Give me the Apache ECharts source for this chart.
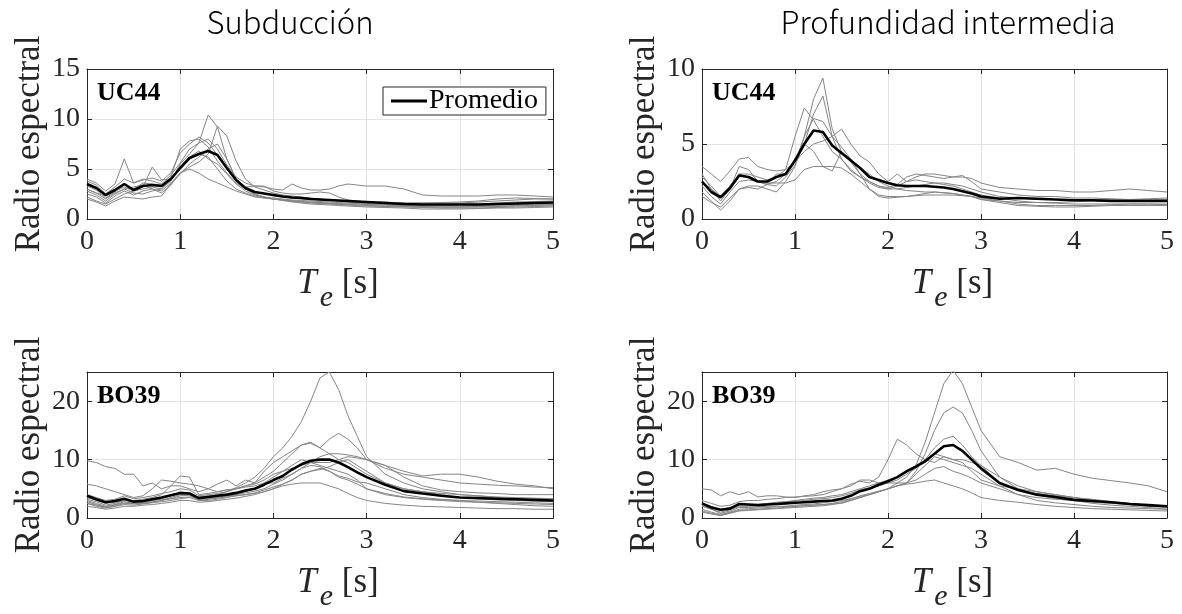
<!DOCTYPE html>
<html>
<head>
<meta charset="utf-8">
<script src="https://cdn.jsdelivr.net/npm/echarts@6/dist/echarts.min.js"></script>
<style>html,body{margin:0;padding:0;background:#fff}#c{width:1182px;height:614px}</style>
</head>
<body>
<div id="c"></div>
<script>
// Shared period grid (s)
const T = [0,0.1,0.2,0.3,0.4,0.5,0.6,0.7,0.8,0.9,1.0,1.1,1.2,1.3,1.4,1.5,1.6,1.7,1.8,1.9,2.0,2.1,2.2,2.3,2.4,2.5,2.6,2.7,2.8,2.9,3.0,3.2,3.4,3.6,3.8,4.0,4.2,4.4,4.6,4.8,5.0];

const columnTitles = ['Subducción', 'Profundidad intermedia'];
const stationLabels = ['UC44', 'UC44', 'BO39', 'BO39'];
const yTitle = 'Radio espectral';
const yMaxes = [15, 10, 25, 25];
const yIntervals = [5, 5, 10, 10];

// ---- Subducción, UC44 ----
const tlMean = [3.5,3.1,2.4,2.9,3.5,2.9,3.3,3.4,3.3,4.0,5.1,6.1,6.5,6.8,6.4,5.1,3.9,3.1,2.7,2.55,2.4,2.25,2.15,2.1,2.0,1.95,1.9,1.85,1.8,1.75,1.7,1.6,1.5,1.45,1.45,1.45,1.45,1.5,1.55,1.6,1.65];
const tlA = [3.0,2.6,2.3,2.8,3.2,2.8,3.0,3.2,3.0,3.8,5.5,6.5,7.6,10.4,9.2,6.0,4.0,3.0,2.5,2.2,2.0,1.9,1.8,1.75,1.7,1.65,1.6,1.55,1.5,1.5,1.45,1.4,1.3,1.25,1.2,1.2,1.25,1.3,1.35,1.4,1.45];
const tlB = [2.5,2.2,1.6,2.3,2.8,2.4,2.8,3.0,2.8,3.6,4.6,5.2,5.7,6.5,9.3,8.3,5.8,4.0,3.2,2.9,2.6,2.4,2.3,2.2,2.1,2.0,1.9,1.8,1.7,1.6,1.55,1.45,1.35,1.3,1.3,1.3,1.35,1.4,1.45,1.5,1.5];
const tlC = [4.0,3.6,2.8,3.5,6.0,3.6,3.9,4.1,3.8,4.6,6.6,7.5,8.2,7.6,6.4,5.0,3.8,3.2,3.3,3.3,2.8,2.6,2.5,2.5,2.6,2.7,2.6,2.2,1.9,1.8,1.7,1.7,1.6,1.6,1.6,1.6,1.7,1.8,1.9,2.0,2.0];
const tlD = [3.8,3.4,2.5,3.2,4.0,3.6,4.0,3.8,3.5,4.4,5.6,7.0,7.6,8.0,7.0,5.4,4.2,3.6,3.3,3.2,3.0,2.9,3.5,3.1,2.9,2.9,3.0,3.3,3.5,3.4,3.3,3.3,3.0,2.4,2.3,2.3,2.3,2.4,2.4,2.3,2.2];
const tlE = [2.2,1.8,1.5,2.0,2.5,2.8,3.2,5.2,3.9,4.0,5.0,6.0,6.5,6.2,5.0,3.8,3.0,2.6,2.3,2.1,2.0,1.9,1.8,1.7,1.65,1.6,1.55,1.5,1.45,1.4,1.35,1.3,1.25,1.2,1.2,1.2,1.2,1.25,1.3,1.35,1.4];
const tlF = [3.0,2.6,2.0,2.6,3.0,3.2,3.4,3.0,2.6,3.4,4.6,5.0,4.6,4.0,3.6,3.2,2.8,2.5,2.2,2.1,2.0,1.9,1.8,1.7,1.6,1.55,1.5,1.45,1.4,1.35,1.3,1.25,1.2,1.15,1.1,1.1,1.1,1.15,1.2,1.25,1.3];
const tlG = [2.0,1.7,1.3,1.8,2.2,2.1,2.0,2.2,2.3,3.5,4.5,5.5,6.2,7.0,7.5,6.0,4.0,3.0,2.5,2.2,2.0,1.85,1.7,1.6,1.5,1.45,1.4,1.35,1.3,1.25,1.2,1.15,1.1,1.0,1.0,1.0,1.05,1.1,1.1,1.15,1.2];
const tlH = [2.8,2.4,1.8,2.5,3.0,2.6,2.5,2.8,3.0,4.0,5.0,6.2,6.8,6.0,5.5,4.5,3.5,2.8,2.4,2.2,2.1,2.0,1.9,1.85,1.8,1.75,1.7,1.65,1.6,1.55,1.5,1.45,1.4,1.4,1.4,1.45,1.5,1.6,1.7,1.75,1.8];
const tlI = [3.3,2.9,2.1,2.7,3.4,3.0,3.6,3.5,3.4,4.2,7.0,7.8,8.0,7.2,5.8,4.6,3.6,3.0,2.7,2.5,2.3,2.2,2.1,2.0,2.0,1.9,1.85,1.8,1.75,1.7,1.7,1.65,1.6,1.6,1.65,1.7,1.8,2.0,2.1,2.05,2.0];

// ---- Profundidad intermedia, UC44 ----
const trMean = [2.5,1.8,1.45,2.05,2.9,2.8,2.5,2.5,2.8,3.0,3.9,5.0,5.9,5.8,4.9,4.4,3.9,3.4,2.8,2.6,2.4,2.25,2.2,2.2,2.2,2.15,2.1,2.0,1.85,1.7,1.5,1.35,1.4,1.35,1.3,1.25,1.25,1.2,1.2,1.2,1.2];
const trA = [3.0,2.0,1.2,2.0,3.5,3.3,2.5,2.3,3.0,3.0,3.8,5.5,8.0,9.4,6.0,4.5,3.8,3.0,2.5,2.2,2.0,2.2,2.5,2.6,2.5,2.4,2.3,2.2,2.0,1.8,1.6,1.4,1.2,1.1,1.05,1.0,1.0,1.0,1.0,1.0,0.95];
const trB = [2.2,1.5,1.0,1.8,2.5,2.6,2.5,2.3,2.2,2.8,3.6,5.0,7.0,8.2,5.5,4.0,3.2,2.8,2.5,2.2,2.1,2.3,2.8,3.0,2.9,2.8,2.7,2.8,2.9,2.5,2.0,1.8,1.6,1.5,1.5,1.4,1.4,1.35,1.3,1.3,1.3];
const trC = [2.8,2.2,1.5,2.2,3.0,3.0,2.8,2.6,2.8,3.3,5.5,7.4,6.6,5.5,4.5,4.0,3.3,2.8,2.4,2.1,2.0,2.0,2.1,2.2,2.3,2.4,2.4,2.3,2.2,2.0,1.8,1.5,1.4,1.3,1.3,1.3,1.3,1.3,1.3,1.35,1.4];
const trD = [2.5,2.0,1.5,2.2,3.0,2.8,2.5,2.4,2.4,2.4,2.6,3.3,3.5,3.5,3.5,3.4,3.0,2.5,2.0,1.6,1.5,1.5,1.5,1.55,1.6,1.6,1.6,1.6,1.55,1.5,1.4,1.2,1.0,0.9,0.9,0.9,0.9,0.95,1.0,1.0,1.0];
const trE = [3.5,3.0,2.5,3.2,4.0,4.1,3.5,3.3,3.2,3.3,3.8,4.5,5.0,5.2,5.5,6.0,5.0,4.2,3.8,3.0,2.5,3.0,2.5,2.8,3.0,3.0,2.9,2.8,2.8,2.7,2.4,2.1,2.0,1.9,1.9,1.8,1.8,1.9,2.0,1.9,1.8];
const trF = [1.8,1.2,0.6,1.2,2.0,2.2,2.2,2.0,1.8,2.5,3.5,5.5,6.7,6.5,5.5,4.8,4.0,3.4,3.0,2.5,2.2,2.0,1.9,1.85,1.8,1.8,1.75,1.7,1.6,1.5,1.3,1.1,0.9,0.85,0.8,0.8,0.85,0.9,0.9,0.9,0.9];
const trG = [1.5,1.1,0.8,1.4,2.0,2.1,2.0,2.3,2.5,3.0,4.0,5.0,4.5,3.5,3.2,4.5,4.0,3.0,2.0,1.5,1.4,1.45,1.5,1.6,1.7,1.8,1.75,1.7,1.6,1.5,1.3,1.2,1.1,1.1,1.1,1.15,1.2,1.2,1.25,1.25,1.2];

// ---- Subducción, BO39 ----
const blMean = [3.8,3.2,2.7,2.9,3.3,2.8,2.9,3.2,3.5,3.9,4.3,4.2,3.4,3.6,3.8,4.0,4.3,4.7,5.0,5.7,6.5,7.2,8.3,9.2,9.8,10.0,10.0,9.5,8.7,7.8,7.0,5.7,4.6,4.2,3.8,3.5,3.4,3.3,3.2,3.1,3.0];
const blA = [2.5,2.2,1.8,2.0,2.5,2.5,2.7,3.0,3.2,3.3,3.5,3.6,3.6,3.8,4.0,4.5,5.2,6.0,7.0,8.5,10.5,12.0,14.0,16.5,20.0,24.0,25.0,22.0,17.5,14.0,10.5,7.5,6.0,5.0,4.5,4.0,3.8,3.5,3.3,3.1,3.0];
const blB = [9.8,9.5,8.8,8.5,7.5,7.5,5.5,6.0,5.0,5.5,5.5,5.0,4.5,5.0,5.8,6.5,5.5,6.5,6.0,8.0,9.5,10.5,11.5,12.5,12.8,12.0,13.5,14.5,13.5,12.0,10.0,8.5,7.5,7.0,6.5,6.0,5.8,5.6,5.5,5.3,5.2];
const blC = [5.8,5.5,5.0,4.5,4.0,3.5,3.8,5.0,6.5,6.3,6.0,5.8,5.5,5.0,4.5,4.8,5.0,5.5,5.8,6.5,7.5,8.0,8.5,9.0,9.5,9.5,9.5,10.0,10.5,10.3,10.0,9.0,8.0,7.2,7.5,7.5,7.0,6.3,5.8,5.5,5.0];
const blD = [3.5,3.0,2.5,2.7,3.0,3.0,3.2,3.5,4.0,5.5,7.2,7.0,4.0,4.2,4.5,4.8,5.0,5.3,5.5,6.0,6.0,6.8,7.5,8.5,9.5,10.5,11.0,11.0,10.8,10.5,10.0,9.0,7.0,5.5,4.8,4.5,4.3,4.2,4.0,4.0,4.0];
const blE = [2.0,1.8,1.5,1.7,2.0,2.0,2.2,2.3,2.5,2.7,3.0,3.0,2.7,2.8,3.0,3.2,3.4,3.7,4.0,4.5,5.0,5.5,5.8,6.0,6.0,6.0,5.5,5.0,4.2,3.5,3.0,2.5,2.2,2.0,1.9,1.8,1.7,1.6,1.6,1.5,1.5];
const blF = [3.0,2.5,2.0,2.3,2.8,2.5,2.6,2.8,3.0,3.5,4.0,4.2,3.5,3.5,3.6,3.8,4.0,4.5,5.0,6.0,7.0,8.0,9.0,10.0,9.5,9.0,8.5,8.0,7.5,6.5,5.0,4.2,3.6,3.3,3.1,3.0,2.9,2.8,2.7,2.6,2.5];
const blG = [2.5,2.0,1.7,2.0,2.3,2.2,2.4,2.6,2.8,3.0,3.3,3.5,3.0,3.0,3.2,3.5,3.8,4.0,4.3,4.8,5.3,5.8,6.5,7.5,8.0,8.5,8.0,7.0,6.5,5.8,5.0,4.0,3.5,3.2,3.0,2.8,2.7,2.6,2.5,2.4,2.3];
const blH = [3.2,2.8,2.2,2.5,3.0,2.8,2.9,3.0,3.3,3.8,4.2,4.0,3.2,3.3,3.5,3.8,3.8,4.0,4.2,4.5,5.0,5.8,6.5,7.5,8.0,8.3,8.8,9.5,10.0,9.0,8.0,6.0,5.0,4.5,4.0,3.5,3.3,3.1,3.0,2.9,2.8];
const blI = [2.8,2.3,1.9,2.2,2.6,2.4,2.5,2.7,3.0,3.3,3.8,3.9,3.0,3.2,3.4,3.6,4.0,4.3,4.6,5.0,5.8,6.5,7.5,8.5,9.0,8.8,8.0,7.2,6.8,6.2,6.0,5.0,4.0,3.5,3.2,3.0,2.7,2.5,2.3,2.1,2.0];
const blJ = [4.0,3.5,3.0,3.2,3.8,3.3,3.5,3.8,4.2,4.5,5.0,4.8,3.8,4.0,4.2,4.5,5.0,5.5,6.0,7.0,8.0,9.5,11.0,12.5,13.0,12.0,11.0,10.0,9.5,8.5,7.5,6.0,5.0,4.5,4.2,4.0,3.8,3.6,3.5,3.4,3.3];

// ---- Profundidad intermedia, BO39 ----
const brMean = [2.5,1.8,1.4,1.6,2.4,2.3,2.2,2.3,2.4,2.5,2.6,2.7,2.8,2.9,3.0,3.3,3.8,4.6,5.0,5.7,6.3,7.0,8.0,8.8,9.7,11.0,12.3,12.5,11.5,10.0,8.5,6.0,4.8,4.0,3.6,3.1,2.9,2.7,2.4,2.2,2.0];
const brA = [2.2,1.5,0.8,1.2,1.8,1.8,1.9,2.0,2.0,2.0,2.0,2.1,2.2,2.3,2.4,2.5,3.0,3.5,4.0,4.5,5.0,6.0,7.0,9.0,13.0,18.0,23.0,25.3,23.0,19.0,15.0,10.5,9.5,8.2,8.5,7.5,6.8,6.4,6.0,5.5,4.5];
const brB = [1.5,1.0,0.6,1.0,1.5,1.6,1.7,1.8,1.9,2.0,2.2,2.3,2.4,2.6,2.8,3.0,3.3,3.7,4.0,4.5,5.0,5.5,6.0,8.0,11.0,15.0,18.0,19.0,18.0,15.0,11.5,7.0,5.5,4.5,4.0,3.5,3.0,2.7,2.4,2.2,2.0];
const brC = [3.0,2.5,2.0,2.2,2.8,3.0,3.0,3.2,3.3,3.5,3.6,3.7,3.8,4.0,4.5,5.0,5.8,6.3,6.0,7.0,10.0,13.5,12.5,11.0,10.0,9.5,10.5,10.0,9.5,8.0,6.5,5.5,5.0,4.5,4.0,3.5,3.2,2.8,2.5,2.2,2.0];
const brD = [2.0,1.5,1.0,1.4,2.0,2.0,2.1,2.3,2.5,2.7,2.9,3.0,3.2,3.3,3.5,3.8,4.2,4.8,5.2,5.5,6.0,6.5,7.5,8.5,10.0,12.0,13.5,14.0,12.5,10.5,9.0,6.0,4.8,4.2,3.8,3.5,3.0,2.6,2.3,2.0,1.8];
const brE = [2.5,2.0,1.5,1.8,2.3,2.2,2.3,2.5,2.7,2.8,3.0,3.2,3.4,3.5,3.8,4.0,4.5,5.0,5.5,6.0,6.5,7.0,8.0,9.0,10.0,11.0,10.5,10.0,10.0,9.5,9.0,7.0,5.0,4.0,3.3,3.0,2.7,2.5,2.3,2.1,2.0];
const brF = [1.2,0.8,0.5,0.9,1.3,1.4,1.5,1.6,1.7,1.8,2.0,2.1,2.2,2.3,2.5,2.8,3.2,3.8,4.2,4.6,5.0,5.5,6.0,6.5,7.5,8.5,8.8,8.0,7.5,6.8,6.0,5.0,4.0,3.0,2.6,2.3,2.0,1.8,1.7,1.6,1.5];
const brG = [1.0,0.7,0.4,0.8,1.2,1.3,1.4,1.5,1.6,1.7,1.8,1.9,2.0,2.1,2.3,2.6,3.0,3.5,4.0,4.5,5.0,5.5,5.8,6.0,6.3,6.5,6.0,5.5,5.0,4.3,3.5,3.0,2.7,2.3,2.0,1.8,1.6,1.5,1.4,1.3,1.2];
const brH = [5.0,4.8,3.8,4.5,4.0,4.5,3.6,3.8,3.8,3.6,3.5,3.8,4.0,4.5,4.8,5.0,5.5,6.5,6.5,6.0,6.0,6.0,6.0,7.5,9.0,10.5,10.0,9.5,9.0,8.5,7.5,5.5,4.0,3.5,3.2,3.0,2.5,2.2,2.0,1.8,1.5];

const panelGray = [
  [tlA, tlB, tlC, tlD, tlE, tlF, tlG, tlH, tlI],
  [trA, trB, trC, trD, trE, trF, trG],
  [blA, blB, blC, blD, blE, blF, blG, blH, blI, blJ],
  [brA, brB, brC, brD, brE, brF, brG, brH]
];
const panelMean = [tlMean, trMean, blMean, brMean];

const SERIF = 'Liberation Serif';
const AX = '#262626';
const grids = [
  {left: 87, top: 69, width: 466, height: 150},
  {left: 702, top: 69, width: 465, height: 150},
  {left: 87, top: 372, width: 466, height: 146},
  {left: 702, top: 372, width: 465, height: 146}
];

const pairs = arr => arr.map((v, i) => [T[i], v]);

const xAxes = [], yAxes = [], series = [];
grids.forEach((g, p) => {
  xAxes.push({
    gridIndex: p, type: 'value', min: 0, max: 5, interval: 1, position: 'bottom',
    axisLine: {show: true, onZero: false, lineStyle: {color: AX, width: 1}},
    axisTick: {show: true, inside: true, length: 5, lineStyle: {color: AX}},
    axisLabel: {color: AX, fontFamily: SERIF, fontSize: 28, margin: 9},
    splitLine: {show: true, lineStyle: {color: '#e3e3e3', width: 1}}
  });
  xAxes.push({
    gridIndex: p, type: 'value', min: 0, max: 5, interval: 1, position: 'top',
    axisLine: {show: true, onZero: false, lineStyle: {color: AX, width: 1}},
    axisTick: {show: true, inside: true, length: 5, lineStyle: {color: AX}},
    axisLabel: {show: false}, splitLine: {show: false}
  });
  yAxes.push({
    gridIndex: p, type: 'value', min: 0, max: yMaxes[p], interval: yIntervals[p], position: 'left',
    axisLine: {show: true, onZero: false, lineStyle: {color: AX, width: 1}},
    axisTick: {show: true, inside: true, length: 5, lineStyle: {color: AX}},
    axisLabel: {color: AX, fontFamily: SERIF, fontSize: 28, margin: 7,
      showMaxLabel: yMaxes[p] % yIntervals[p] === 0},
    splitLine: {show: true, lineStyle: {color: '#e3e3e3', width: 1}}
  });
  yAxes.push({
    gridIndex: p, type: 'value', min: 0, max: yMaxes[p], interval: yIntervals[p], position: 'right',
    axisLine: {show: true, onZero: false, lineStyle: {color: AX, width: 1}},
    axisTick: {show: true, inside: true, length: 5, lineStyle: {color: AX}},
    axisLabel: {show: false}, splitLine: {show: false}
  });
  panelGray[p].forEach((arr, k) => {
    series.push({
      type: 'line', name: 'reg' + p + '_' + k, xAxisIndex: 2 * p, yAxisIndex: 2 * p,
      data: pairs(arr), showSymbol: false, symbol: 'none', silent: true,
      itemStyle: {color: '#858585'},
      lineStyle: {color: '#858585', width: 1}, z: 2
    });
  });
  series.push({
    type: 'line', name: p === 0 ? 'Promedio' : 'Promedio ' + p, xAxisIndex: 2 * p, yAxisIndex: 2 * p,
    data: pairs(panelMean[p]), showSymbol: false, symbol: 'none', silent: true,
    itemStyle: {color: '#000000'},
    lineStyle: {color: '#000000', width: 2.6}, z: 3
  });
});

const graphics = [
  {type: 'text', x: 290, y: 22, style: {text: columnTitles[0], fontFamily: 'Noto Sans CJK JP', fontSize: 31, fontWeight: 300, fill: '#000', align: 'center', verticalAlign: 'middle'}},
  {type: 'text', x: 948, y: 22, style: {text: columnTitles[1], fontFamily: 'Noto Sans CJK JP', fontSize: 31, fontWeight: 300, fill: '#000', align: 'center', verticalAlign: 'middle'}}
];
grids.forEach((g, p) => {
  // station tag
  graphics.push({type: 'text', x: g.left + 10, y: g.top + 11, z: 10,
    style: {text: stationLabels[p], fontFamily: SERIF, fontWeight: 'bold', fontSize: 26, fill: '#000', align: 'left', verticalAlign: 'top'}});
  // y-axis title
  graphics.push({type: 'text', x: g.left - 57, y: g.top + g.height / 2, rotation: Math.PI / 2, z: 10,
    style: {text: yTitle, fontFamily: SERIF, fontSize: 35, fill: AX, align: 'center', verticalAlign: 'middle'}});
  // x-axis title T_e [s]
  graphics.push({type: 'text', x: g.left + g.width / 2 + 18, y: g.top + g.height + 47, z: 10,
    style: {
      text: '{t|T}{e|e}{s| [s]}', align: 'center', verticalAlign: 'top',
      rich: {
        t: {fontFamily: SERIF, fontStyle: 'italic', fontSize: 35, fill: AX, verticalAlign: 'top'},
        e: {fontFamily: SERIF, fontStyle: 'italic', fontSize: 30, fill: AX, verticalAlign: 'top', padding: [17, 0, 0, 3]},
        s: {fontFamily: SERIF, fontSize: 35, fill: AX, verticalAlign: 'top'}
      }
    }});
});

const chart = echarts.init(document.getElementById('c'), null, {renderer: 'canvas'});
chart.setOption({
  backgroundColor: '#ffffff',
  animation: false,
  textStyle: {fontFamily: SERIF},
  grid: grids.map(g => Object.assign({containLabel: false}, g)),
  xAxis: xAxes,
  yAxis: yAxes,
  series: series,
  legend: {
    data: ['Promedio'], left: 383, top: 87, orient: 'horizontal',
    icon: 'rect', itemWidth: 36, itemHeight: 3,
    itemStyle: {color: '#000'},
    backgroundColor: '#fff', borderColor: AX, borderWidth: 1, padding: [0, 8, 0, 8],
    itemGap: 4, selectedMode: false,
    textStyle: {fontFamily: SERIF, fontSize: 28, color: '#000', padding: [0, 0, 0, -3]}
  },
  graphic: graphics
});
</script>
</body>
</html>
